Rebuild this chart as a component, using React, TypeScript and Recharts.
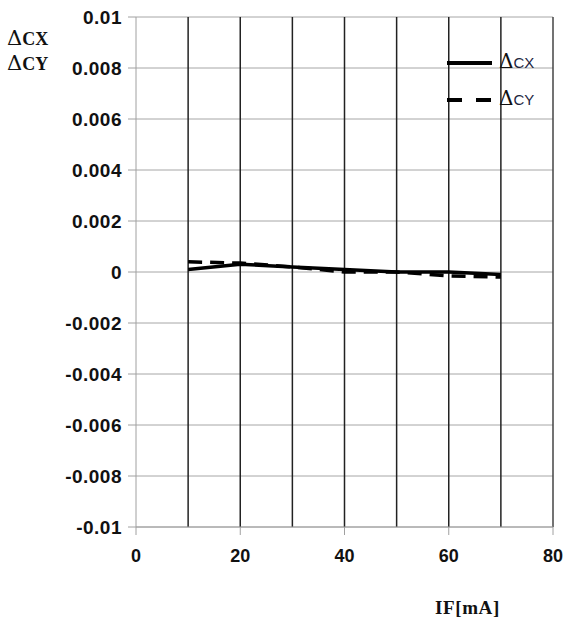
import { LineChart, Line, XAxis, YAxis, CartesianGrid, ReferenceLine } from "recharts";

const currents = [10, 20, 30, 40, 50, 60, 70];
const deltaCX = [0.0001, 0.0003, 0.0002, 0.0001, 0, 0, -0.0001];
const deltaCY = [0.0004, 0.00035, 0.0002, 0.0, 0.0, -0.00015, -0.0002];
const xTicks = [0, 20, 40, 60, 80];
const xGrid = [10, 20, 30, 40, 50, 60, 70, 80];
const yTicks = [-0.01, -0.008, -0.006, -0.004, -0.002, 0, 0.002, 0.004, 0.006, 0.008, 0.01];
const seriesNames = ["CX", "CY"];

const data = currents.map((c, i) => ({ current: c, cx: deltaCX[i], cy: deltaCY[i] }));

const sans = "'Liberation Sans', Arial, sans-serif";
const serif = "'Liberation Serif', 'DejaVu Serif', serif";
const deltaFont = "'DejaVu Serif', serif";
const xTickFont = { fontFamily: sans, fontWeight: 700, fontSize: 18, fill: "#111" };
const yTickFont = { ...xTickFont, fontSize: 19, letterSpacing: 0.5 };

// titles and legend drawn on top of the chart
function Overlay() {
  return (
    <svg width={566} height={618} style={{ position: "absolute", left: 0, top: 0, pointerEvents: "none" }}>
      {seriesNames.map((name, i) => (
        <text key={"t" + name} x={7} y={45 + i * 25} fill="#111">
          <tspan fontFamily={deltaFont} fontSize={21}>Δ</tspan>
          <tspan fontFamily={serif} fontWeight={700} fontSize={18}>{name}</tspan>
        </text>
      ))}
      {seriesNames.map((name, i) => (
        <g key={"l" + name}>
          <line
            x1={447}
            x2={492}
            y1={63 + i * 37}
            y2={63 + i * 37}
            stroke="#000"
            strokeWidth={4}
            strokeDasharray={i === 1 ? "15 14" : undefined}
          />
          <text x={499} y={68 + i * 37} fill="#111">
            <tspan fontFamily={deltaFont} fontSize={20}>Δ</tspan>
            <tspan fontFamily={sans} fontSize={15} fill="#1c2440">{name}</tspan>
          </text>
        </g>
      ))}
      <text x={435} y={614} fontFamily={serif} fontWeight={700} fontSize={19} letterSpacing={0.6} fill="#111">
        IF[mA]
      </text>
    </svg>
  );
}

export default function App() {
  return (
    <div style={{ position: "absolute", left: 0, top: 0, width: 566, height: 618, background: "#fff" }}>
      <LineChart width={566} height={618} data={data} margin={{ top: 17, right: 13, left: 0, bottom: 51 }}>
        <CartesianGrid vertical={false} stroke="#a6a6a6" />
        <XAxis
          dataKey="current"
          type="number"
          domain={[0, 80]}
          ticks={xTicks}
          stroke="#a0a0a0"
          tickSize={8}
          tickMargin={14}
          height={40}
          tick={xTickFont}
        />
        <YAxis
          type="number"
          domain={[-0.01, 0.01]}
          ticks={yTicks}
          width={136}
          stroke="#a0a0a0"
          tickSize={8}
          tickMargin={6}
          tick={yTickFont}
          tickFormatter={(v: number) => Number(v.toFixed(3)).toString()}
        />
        {xGrid.map((x) => (
          <ReferenceLine key={x} x={x} stroke={x === 80 ? "#444" : "#222"} strokeWidth={1.5} />
        ))}
        <Line dataKey="cx" stroke="#000" strokeWidth={3.5} dot={false} isAnimationActive={false} />
        <Line dataKey="cy" stroke="#000" strokeWidth={3.5} strokeDasharray="14 8" dot={false} isAnimationActive={false} />
      </LineChart>
      <Overlay />
    </div>
  );
}
